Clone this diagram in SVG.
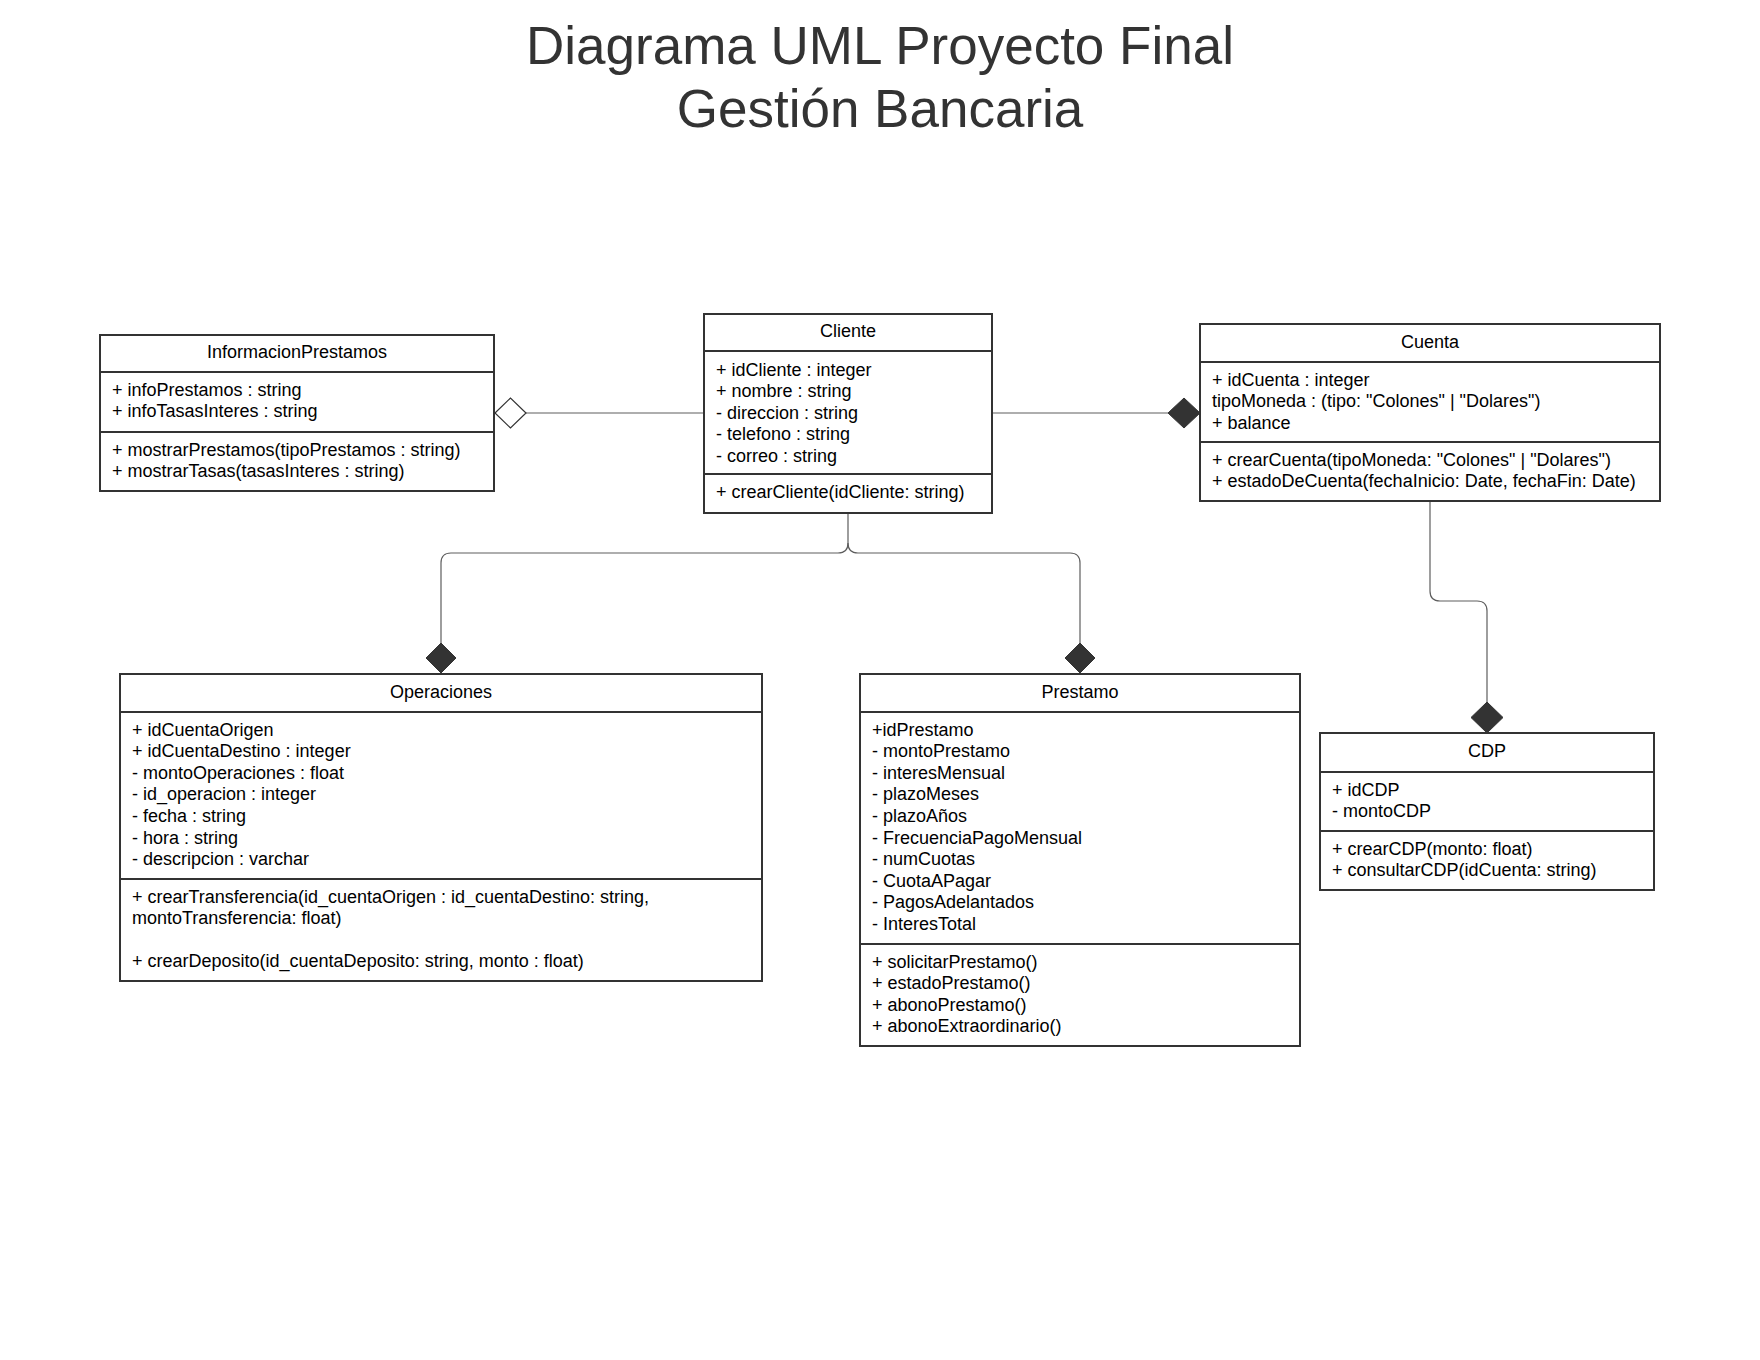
<svg xmlns="http://www.w3.org/2000/svg" width="1760" height="1360" viewBox="0 0 1760 1360">
<style>
.box{fill:#fff;stroke:#333;stroke-width:2}
.div{stroke:#333;stroke-width:2}
.t{font-family:"Liberation Sans",Arial,sans-serif;font-size:18px;fill:#000}
.h{text-anchor:middle}
.title{font-family:"Liberation Sans",Arial,sans-serif;font-size:53px;fill:#333;text-anchor:middle}
.conn{fill:none;stroke:#5e5e5e;stroke-width:1.2}
.fd{fill:#333;stroke:#333;stroke-width:1}
.hd{fill:#fff;stroke:#333;stroke-width:1.2}
</style>
<rect width="1760" height="1360" fill="#fff"/>
<text class="title" x="880" y="64">Diagrama UML Proyecto Final</text>
<text class="title" x="880" y="127">Gestión Bancaria</text>

<g id="connectors">
<path class="conn" d="M526,413 H704"/>
<polygon class="hd" points="495,413 510.5,398 526,413 510.5,428"/>
<path class="conn" d="M992,413 H1168"/>
<polygon class="fd" points="1168,413 1184,398 1200,413 1184,428"/>
<path class="conn" d="M848,513 V543 Q848,553 838,553 H451 Q441,553 441,563 V643"/>
<path class="conn" d="M848,543 Q848,553 858,553 H1070 Q1080,553 1080,563 V643"/>
<polygon class="fd" points="441,643 456,658 441,673 426,658"/>
<polygon class="fd" points="1080,643 1095,658 1080,673 1065,658"/>
<path class="conn" d="M1430,501 V591 Q1430,601 1440,601 H1477 Q1487,601 1487,611 V702"/>
<polygon class="fd" points="1487,702 1503,717.5 1487,733 1471,717.5"/>
</g>

<g id="InformacionPrestamos">
<rect class="box" x="100" y="335" width="394" height="156"/>
<line class="div" x1="100" y1="372" x2="494" y2="372"/>
<line class="div" x1="100" y1="432" x2="494" y2="432"/>
<text class="t h" x="297" y="357.5">InformacionPrestamos</text>
<text class="t" x="112" y="395.5">+ infoPrestamos : string</text>
<text class="t" x="112" y="417.1">+ infoTasasInteres : string</text>
<text class="t" x="112" y="455.5">+ mostrarPrestamos(tipoPrestamos : string)</text>
<text class="t" x="112" y="477.1">+ mostrarTasas(tasasInteres : string)</text>
</g>

<g id="Cliente">
<rect class="box" x="704" y="314" width="288" height="199"/>
<line class="div" x1="704" y1="351" x2="992" y2="351"/>
<line class="div" x1="704" y1="474" x2="992" y2="474"/>
<text class="t h" x="848" y="337">Cliente</text>
<text class="t" x="716" y="375.5">+ idCliente : integer</text>
<text class="t" x="716" y="397.1">+ nombre : string</text>
<text class="t" x="716" y="418.7">- direccion : string</text>
<text class="t" x="716" y="440.3">- telefono : string</text>
<text class="t" x="716" y="461.9">- correo : string</text>
<text class="t" x="716" y="497.5">+ crearCliente(idCliente: string)</text>
</g>

<g id="Cuenta">
<rect class="box" x="1200" y="324" width="460" height="177"/>
<line class="div" x1="1200" y1="362" x2="1660" y2="362"/>
<line class="div" x1="1200" y1="442" x2="1660" y2="442"/>
<text class="t h" x="1430" y="347.5">Cuenta</text>
<text class="t" x="1212" y="385.5">+ idCuenta : integer</text>
<text class="t" x="1212" y="407.1">tipoMoneda : (tipo: "Colones" | "Dolares")</text>
<text class="t" x="1212" y="428.7">+ balance</text>
<text class="t" x="1212" y="465.5">+ crearCuenta(tipoMoneda: "Colones" | "Dolares")</text>
<text class="t" x="1212" y="487.1">+ estadoDeCuenta(fechaInicio: Date, fechaFin: Date)</text>
</g>

<g id="Operaciones">
<rect class="box" x="120" y="674" width="642" height="307"/>
<line class="div" x1="120" y1="712" x2="762" y2="712"/>
<line class="div" x1="120" y1="879" x2="762" y2="879"/>
<text class="t h" x="441" y="697.5">Operaciones</text>
<text class="t" x="132" y="735.5">+ idCuentaOrigen</text>
<text class="t" x="132" y="757.1">+ idCuentaDestino : integer</text>
<text class="t" x="132" y="778.7">- montoOperaciones : float</text>
<text class="t" x="132" y="800.3">- id_operacion : integer</text>
<text class="t" x="132" y="821.9">- fecha : string</text>
<text class="t" x="132" y="843.5">- hora : string</text>
<text class="t" x="132" y="865.1">- descripcion : varchar</text>
<text class="t" x="132" y="902.5">+ crearTransferencia(id_cuentaOrigen : id_cuentaDestino: string,</text>
<text class="t" x="132" y="924.1">montoTransferencia: float)</text>
<text class="t" x="132" y="967.3">+ crearDeposito(id_cuentaDeposito: string, monto : float)</text>
</g>

<g id="Prestamo">
<rect class="box" x="860" y="674" width="440" height="372"/>
<line class="div" x1="860" y1="712" x2="1300" y2="712"/>
<line class="div" x1="860" y1="944" x2="1300" y2="944"/>
<text class="t h" x="1080" y="697.5">Prestamo</text>
<text class="t" x="872" y="735.5">+idPrestamo</text>
<text class="t" x="872" y="757.1">- montoPrestamo</text>
<text class="t" x="872" y="778.7">- interesMensual</text>
<text class="t" x="872" y="800.3">- plazoMeses</text>
<text class="t" x="872" y="821.9">- plazoAños</text>
<text class="t" x="872" y="843.5">- FrecuenciaPagoMensual</text>
<text class="t" x="872" y="865.1">- numCuotas</text>
<text class="t" x="872" y="886.7">- CuotaAPagar</text>
<text class="t" x="872" y="908.3">- PagosAdelantados</text>
<text class="t" x="872" y="929.9">- InteresTotal</text>
<text class="t" x="872" y="967.5">+ solicitarPrestamo()</text>
<text class="t" x="872" y="989.1">+ estadoPrestamo()</text>
<text class="t" x="872" y="1010.7">+ abonoPrestamo()</text>
<text class="t" x="872" y="1032.3">+ abonoExtraordinario()</text>
</g>

<g id="CDP">
<rect class="box" x="1320" y="733" width="334" height="157"/>
<line class="div" x1="1320" y1="772" x2="1654" y2="772"/>
<line class="div" x1="1320" y1="831" x2="1654" y2="831"/>
<text class="t h" x="1487" y="757">CDP</text>
<text class="t" x="1332" y="795.5">+ idCDP</text>
<text class="t" x="1332" y="817.1">- montoCDP</text>
<text class="t" x="1332" y="854.5">+ crearCDP(monto: float)</text>
<text class="t" x="1332" y="876.1">+ consultarCDP(idCuenta: string)</text>
</g>
</svg>
